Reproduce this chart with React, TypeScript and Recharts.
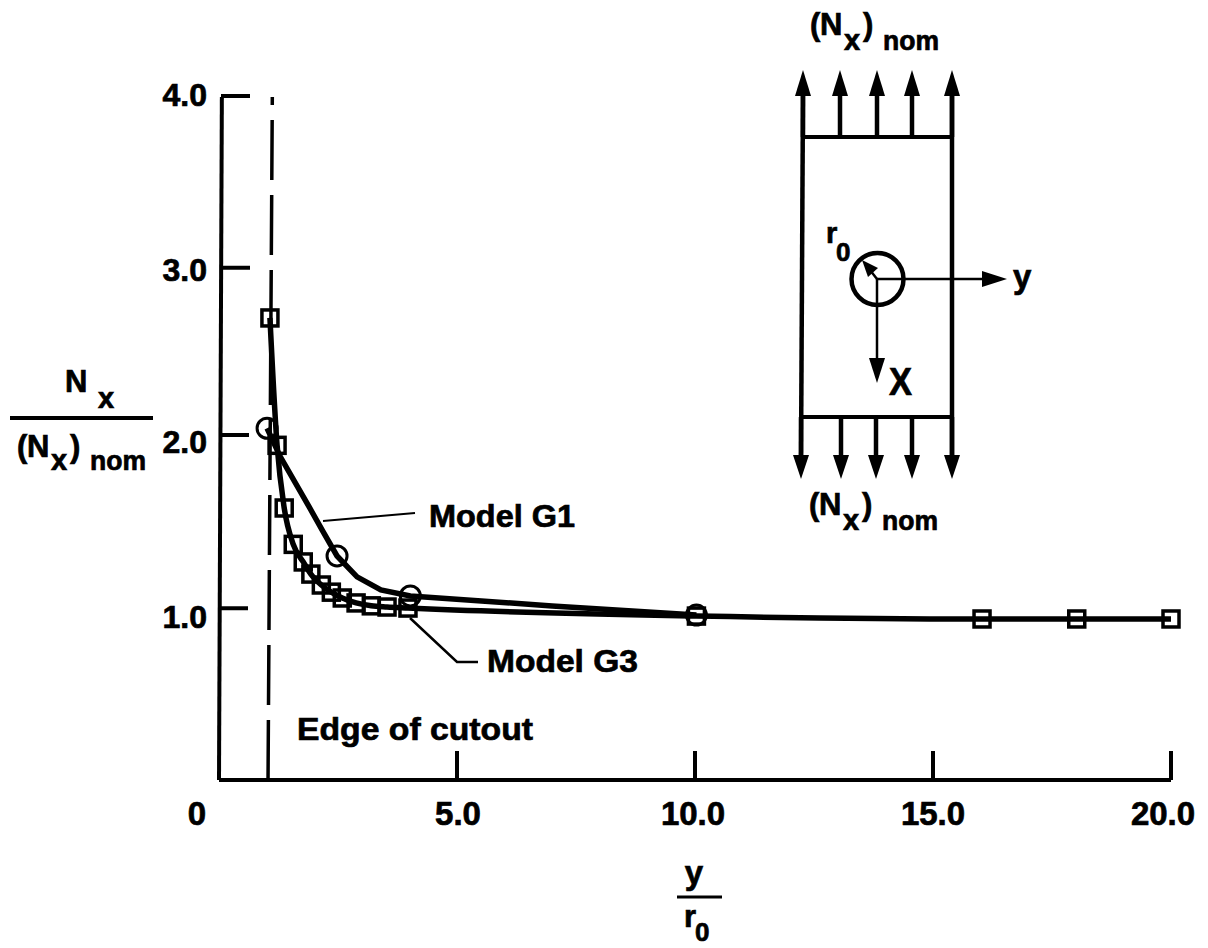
import React from "react";
import { ComposedChart, Line, XAxis, YAxis, ReferenceLine } from "recharts";

const g3X = [1.07, 1.22, 1.37, 1.56, 1.77, 1.93, 2.15, 2.36, 2.59, 2.88, 3.2, 3.53, 3.97, 10.03, 16.03, 18.02, 20];
const g3Y = [2.706, 1.96, 1.593, 1.38, 1.277, 1.206, 1.142, 1.1, 1.066, 1.037, 1.02, 1.013, 1.007, 0.96, 0.943, 0.943, 0.943];
const g1X = [1.01, 1.28, 1.9, 2.18, 2.48, 2.9, 3.4, 4.02, 7.0, 10.03];
const g1Y = [2.06, 1.897, 1.596, 1.458, 1.312, 1.19, 1.113, 1.078, 1.019, 0.966];
const g1Marked = [true, false, false, false, true, false, false, true, false, true];
const xTicks = [0, 5, 10, 15, 20];
const xTickLabels = ["0", "5.0", "10.0", "15.0", "20.0"];
const yTicks = [1, 2, 3, 4];
const yTickLabels = ["1.0", "2.0", "3.0", "4.0"];
const cutoutTopX = 1.12;
const cutoutBottomX = 1.03;

const g3Data = g3X.map((x, i) => ({ x, g3: g3Y[i] }));
const g1Data = g1X.map((x, i) => ({ x, g1: g1Y[i], marked: g1Marked[i] }));

const FONT = "'Liberation Sans', Arial, sans-serif";
const K = "#000";
const boldEdge = { stroke: K, strokeWidth: 0.7 };

const XTick = (p: any) => {
  const v = p.payload.value;
  const i = xTicks.indexOf(v);
  const dx = [-22, 1, -2, 0, -8][i];
  return (
    <g>
      {v !== 0 && <line x1={p.x} x2={p.x} y1={780} y2={751} stroke={K} strokeWidth={4} />}
      <text x={p.x + dx} y={825} textAnchor="middle" fontFamily={FONT} fontWeight={700} fontSize={33} fill={K} {...boldEdge}>
        {xTickLabels[i]}
      </text>
    </g>
  );
};

const YTick = (p: any) => {
  const v = p.payload.value;
  const i = yTicks.indexOf(v);
  const lineDy = [-1, -3.5, 0, -1][i];
  const labelDy = [19, 14.5, 13, 9][i];
  return (
    <g>
      <line x1={221} x2={[248, 249, 250, 250][i]} y1={p.y + lineDy} y2={p.y + lineDy} stroke={K} strokeWidth={4} />
      <text x={207} y={p.y + labelDy} textAnchor="end" fontFamily={FONT} fontWeight={700} fontSize={32} fill={K} {...boldEdge}>
        {yTickLabels[i]}
      </text>
    </g>
  );
};

const SquareDot = (p: any) => (
  <rect key={p.index} x={p.cx - 8} y={p.cy - 8} width={16} height={16} fill="none" stroke={K} strokeWidth={3.5} />
);
const CircleDot = (p: any) =>
  p.payload.marked ? (
    <circle key={p.index} cx={p.cx} cy={p.cy} r={10} fill="none" stroke={K} strokeWidth={3} />
  ) : (
    <g key={p.index} />
  );

const T = ({ x, y, s, w, a, c }: any) => (
  <text x={x} y={y} fontSize={s} fontFamily={FONT} fontWeight={700} fill={K} stroke={K} strokeWidth={0.7} textAnchor={a || "start"} textLength={w} lengthAdjust={w ? "spacingAndGlyphs" : undefined}>
    {c}
  </text>
);

const UpArrow = ({ x, w }: { x: number; w: number }) => (
  <g>
    <line x1={x} x2={x} y1={137} y2={92} stroke={K} strokeWidth={w} />
    <polygon points={`${x},70 ${x - 8},96 ${x + 8},96`} fill={K} />
  </g>
);
const DownArrow = ({ x, w }: { x: number; w: number }) => (
  <g>
    <line x1={x} x2={x} y1={417} y2={458} stroke={K} strokeWidth={w} />
    <polygon points={`${x},479 ${x - 8},455 ${x + 8},455`} fill={K} />
  </g>
);

const NxNom = ({ x, y, sub }: { x: number; y: number; sub: number }) => (
  <g>
    <T x={x} y={y} s={31} c="(" />
    <T x={x + 10} y={y} s={31} c="N" />
    <T x={x + 34} y={y + sub} s={29} c="x" />
    <T x={x + 53} y={y} s={31} c=")" />
    <T x={x + 73} y={y + sub} s={27} w={56} c="nom" />
  </g>
);

const Overlay = () => (
  <svg width={1208} height={948} style={{ position: "absolute", left: 0, top: 0, pointerEvents: "none" }}>
    {/* y-axis label */}
    <T x={65} y={392} s={31} c="N" />
    <T x={98} y={408} s={29} c="x" />
    <line x1={10} x2={153} y1={418} y2={418} stroke={K} strokeWidth={4} />
    <NxNom x={17} y={457} sub={13} />

    {/* x-axis label */}
    <T x={694} y={884} s={33} a="middle" c="y" />
    <line x1={677} x2={722} y1={897} y2={897} stroke={K} strokeWidth={3} />
    <T x={684} y={927} s={31} c="r" />
    <T x={695} y={941} s={26} c="0" />

    {/* annotations */}
    <T x={297} y={740} s={32} w={236} c="Edge of cutout" />
    <T x={429} y={527} s={32} w={146} c="Model G1" />
    <T x={487} y={672} s={32} w={151} c="Model G3" />
    <polyline points="323,521 415,513" fill="none" stroke={K} strokeWidth={2} />
    <polyline points="410,618 457,662 478,662" fill="none" stroke={K} strokeWidth={2.5} />

    {/* inset */}
    <NxNom x={810} y={35} sub={15} />
    <NxNom x={809} y={515} sub={15} />
    <line x1={803} x2={801} y1={90} y2={460} stroke={K} strokeWidth={4.5} />
    <line x1={952} x2={952} y1={90} y2={460} stroke={K} strokeWidth={4.5} />
    <line x1={803} x2={953} y1={137} y2={137} stroke={K} strokeWidth={4} />
    <line x1={802} x2={952} y1={417} y2={417} stroke={K} strokeWidth={4} />
    {[803, 840, 877, 912, 952].map((x) => <UpArrow key={x} x={x} w={4.5} />)}
    {[801, 841, 876, 912, 952].map((x) => <DownArrow key={x} x={x} w={4.5} />)}
    <circle cx={877.5} cy={279} r={26} fill="none" stroke={K} strokeWidth={4.5} />
    <line x1={877} x2={985} y1={279} y2={279} stroke={K} strokeWidth={2.5} />
    <polygon points="1007,279 982,271 982,287" fill={K} />
    <line x1={877} x2={877} y1={279} y2={360} stroke={K} strokeWidth={2.5} />
    <polygon points="877,383 869,358 885,358" fill={K} />
    <line x1={877} x2={866} y1={279} y2={265} stroke={K} strokeWidth={2.5} />
    <polygon points="862,260 878,268 868,277" fill={K} />
    <T x={1013} y={288} s={33} c="y" />
    <T x={889} y={395} s={38} w={23} c="X" />
    <T x={826} y={243} s={29} c="r" />
    <T x={836} y={261} s={26} c="0" />
  </svg>
);

export default function App() {
  return (
    <div style={{ position: "absolute", left: 0, top: 0, width: 1208, height: 948, background: "#fff" }}>
      <ComposedChart width={1208} height={948} margin={{ top: 97, right: 37, bottom: 0, left: 0 }}>
        <XAxis
          type="number"
          dataKey="x"
          domain={[0, 20]}
          ticks={xTicks}
          interval={0}
          height={168}
          tick={<XTick />}
          tickLine={false}
          axisLine={{ stroke: K, strokeWidth: 4 }}
        />
        <YAxis
          type="number"
          domain={[0, 4]}
          ticks={yTicks}
          interval={0}
          width={219}
          tick={<YTick />}
          tickLine={false}
          axisLine={false}
        />
        <ReferenceLine
          segment={[{ x: 0, y: 0 }, { x: 0.06, y: 4 }]}
          stroke={K}
          strokeWidth={4}
          ifOverflow="visible"
        />
        <ReferenceLine
          segment={[{ x: cutoutTopX, y: 4 }, { x: cutoutBottomX, y: 0 }]}
          stroke={K}
          strokeWidth={3.5}
          strokeDasharray="60 15"
          strokeDashoffset={52}
          ifOverflow="visible"
        />
        <Line
          data={g1Data}
          dataKey="g1"
          type="linear"
          stroke={K}
          strokeWidth={5.5}
          dot={<CircleDot />}
          isAnimationActive={false}
          legendType="none"
        />
        <Line
          data={g3Data}
          dataKey="g3"
          type="monotone"
          stroke={K}
          strokeWidth={5.5}
          dot={<SquareDot />}
          isAnimationActive={false}
          legendType="none"
        />
      </ComposedChart>
      <Overlay />
    </div>
  );
}
